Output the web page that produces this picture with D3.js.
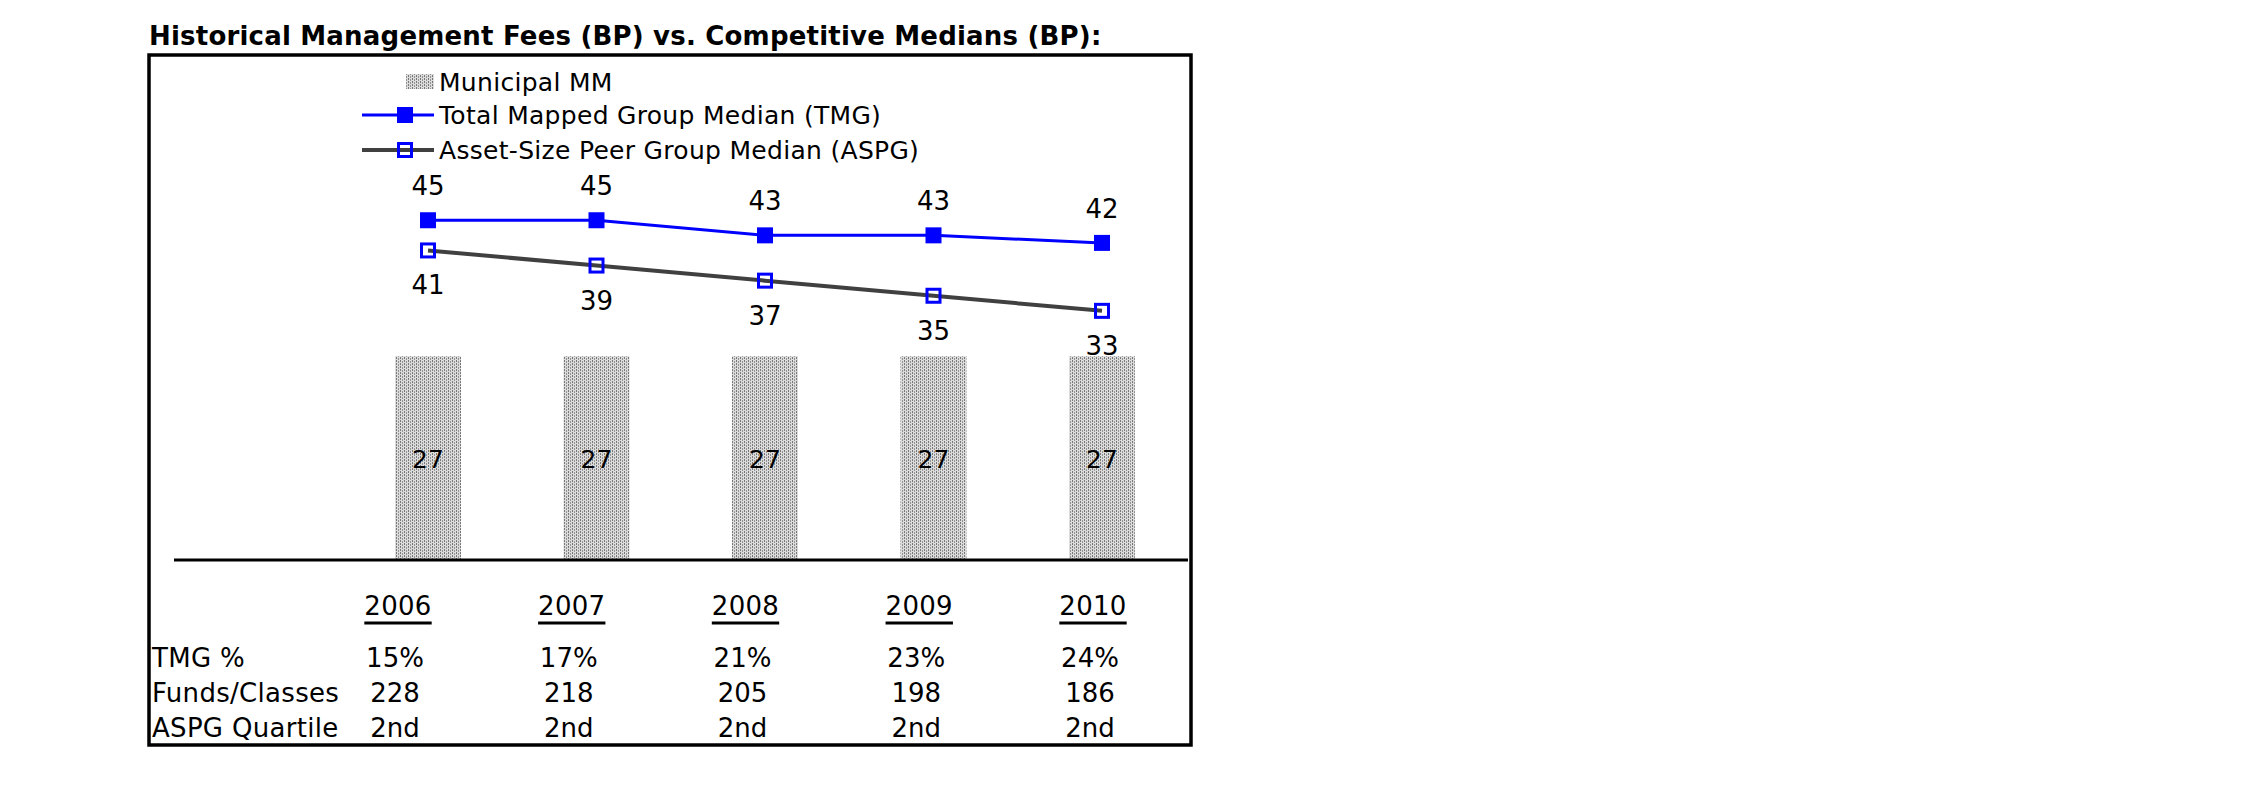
<!DOCTYPE html>
<html>
<head>
<meta charset="utf-8">
<script src="https://cdn.jsdelivr.net/npm/d3@7"></script>
<style>
  html, body { margin: 0; padding: 0; background: #fff; }
  svg { display: block; }
  text { font-family: "DejaVu Sans", Verdana, sans-serif; fill: #000; }
</style>
</head>
<body>
<svg id="chart" width="2250" height="796"></svg>
<script>
// ---------- data ----------
const years = ["2006", "2007", "2008", "2009", "2010"];
const municipalMM = [27, 27, 27, 27, 27];
const tmgMedian = [45, 45, 43, 43, 42];
const aspgMedian = [41, 39, 37, 35, 33];
const tmgPct = ["15%", "17%", "21%", "23%", "24%"];
const fundsClasses = ["228", "218", "205", "198", "186"];
const aspgQuartile = ["2nd", "2nd", "2nd", "2nd", "2nd"];
const rowLabels = ["TMG %", "Funds/Classes", "ASPG Quartile"];
const legendLabels = ["Municipal MM", "Total Mapped Group Median (TMG)", "Asset-Size Peer Group Median (ASPG)"];
const titleText = "Historical Management Fees (BP) vs. Competitive Medians (BP):";

// ---------- setup ----------
const svg = d3.select("#chart");
svg.append("rect").attr("width", 2250).attr("height", 796).attr("fill", "#fff");

const defs = svg.append("defs");
const pat = defs.append("pattern").attr("id", "dots")
  .attr("patternUnits", "userSpaceOnUse").attr("width", 4).attr("height", 3);
pat.append("rect").attr("width", 4).attr("height", 3).attr("fill", "#dcdcdc");
pat.append("rect").attr("x", 0).attr("y", 0).attr("width", 1).attr("height", 2).attr("fill", "#777");
pat.append("rect").attr("x", 2).attr("y", 1).attr("width", 1).attr("height", 2).attr("fill", "#939393");

const BLUE = "#0000ff";
const GRAY = "#404040";

// title
svg.append("text").attr("x", 149).attr("y", 45)
  .attr("font-size", 26).attr("font-weight", "bold").attr("letter-spacing", 0.2).text(titleText);

// frame
svg.append("rect").attr("x", 149).attr("y", 55).attr("width", 1042).attr("height", 690)
  .attr("fill", "none").attr("stroke", "#000").attr("stroke-width", 3.5);

// scales
const x = d3.scalePoint().domain(years).range([428, 1102]);
const y = d3.scaleLinear().domain([0, 60]).range([560, 107]);
const barW = 66;

// bars
svg.append("g").selectAll("rect").data(years).join("rect")
  .attr("x", d => x(d) - barW / 2)
  .attr("y", (d, i) => y(municipalMM[i]))
  .attr("width", barW)
  .attr("height", (d, i) => y(0) - y(municipalMM[i]))
  .attr("fill", "url(#dots)");

svg.append("g").selectAll("text").data(years).join("text")
  .attr("x", d => x(d)).attr("y", (d, i) => (y(municipalMM[i]) + y(0)) / 2 + 10)
  .attr("text-anchor", "middle").attr("font-size", 25)
  .text((d, i) => municipalMM[i]);

// baseline axis
svg.append("line").attr("x1", 174).attr("x2", 1188).attr("y1", y(0)).attr("y2", y(0))
  .attr("stroke", "#000").attr("stroke-width", 3);

// lines
const line = d3.line().x(d => x(d[0])).y(d => y(d[1]));
const aspgPts = years.map((d, i) => [d, aspgMedian[i]]);
const tmgPts = years.map((d, i) => [d, tmgMedian[i]]);

svg.append("path").datum(aspgPts).attr("d", line)
  .attr("fill", "none").attr("stroke", GRAY).attr("stroke-width", 4);
svg.append("path").datum(tmgPts).attr("d", line)
  .attr("fill", "none").attr("stroke", BLUE).attr("stroke-width", 3);

// markers
svg.append("g").selectAll("rect").data(tmgPts).join("rect")
  .attr("x", d => x(d[0]) - 8).attr("y", d => y(d[1]) - 8)
  .attr("width", 16).attr("height", 16).attr("fill", BLUE);
svg.append("g").selectAll("rect").data(aspgPts).join("rect")
  .attr("x", d => x(d[0]) - 6.5).attr("y", d => y(d[1]) - 6.5)
  .attr("width", 13).attr("height", 13).attr("fill", "none")
  .attr("stroke", BLUE).attr("stroke-width", 3);

// point labels
svg.append("g").selectAll("text").data(tmgPts).join("text")
  .attr("x", d => x(d[0])).attr("y", d => y(d[1]) - 25)
  .attr("text-anchor", "middle").attr("font-size", 26).text(d => d[1]);
svg.append("g").selectAll("text").data(aspgPts).join("text")
  .attr("x", d => x(d[0])).attr("y", d => y(d[1]) + 44)
  .attr("text-anchor", "middle").attr("font-size", 26).text(d => d[1]);

// legend
const lg = svg.append("g");
const lgX0 = 362, lgX1 = 434, lgTx = 439;
const lgY = [82, 115, 150];
lg.append("rect").attr("x", 406).attr("y", lgY[0] - 8).attr("width", lgX1 - 406).attr("height", 15)
  .attr("fill", "url(#dots)");
lg.append("line").attr("x1", lgX0).attr("x2", lgX1).attr("y1", lgY[1]).attr("y2", lgY[1])
  .attr("stroke", BLUE).attr("stroke-width", 3);
lg.append("rect").attr("x", 405 - 8).attr("y", lgY[1] - 8).attr("width", 16).attr("height", 16).attr("fill", BLUE);
lg.append("line").attr("x1", lgX0).attr("x2", lgX1).attr("y1", lgY[2]).attr("y2", lgY[2])
  .attr("stroke", GRAY).attr("stroke-width", 4);
lg.append("rect").attr("x", 405 - 6.5).attr("y", lgY[2] - 6.5).attr("width", 13).attr("height", 13)
  .attr("fill", "none").attr("stroke", BLUE).attr("stroke-width", 3);
lg.selectAll("text.lt").data(legendLabels).join("text").attr("class", "lt")
  .attr("x", lgTx).attr("y", (d, i) => lgY[i] + 9).attr("font-size", 25)
  .attr("letter-spacing", 0.3).text(d => d);

// table
const col = d3.scalePoint().domain(years).range([398, 1093]);
const yearG = svg.append("g");
const yt = yearG.selectAll("text").data(years).join("text")
  .attr("x", d => col(d)).attr("y", 615).attr("text-anchor", "middle")
  .attr("font-size", 26).attr("letter-spacing", 0.3).text(d => d);
yt.each(function(d) {
  const w = this.getComputedTextLength();
  yearG.append("line").attr("x1", col(d) - w / 2).attr("x2", col(d) + w / 2)
    .attr("y1", 623).attr("y2", 623).attr("stroke", "#000").attr("stroke-width", 3);
});

const rowY = [667, 702, 737];
const rows = [tmgPct, fundsClasses, aspgQuartile];
svg.append("g").selectAll("text").data(rowLabels).join("text")
  .attr("x", 152).attr("y", (d, i) => rowY[i]).attr("font-size", 26)
  .attr("letter-spacing", 0.3).text(d => d);
rows.forEach((vals, r) => {
  svg.append("g").selectAll("text").data(vals).join("text")
    .attr("x", (d, i) => col(years[i]) - 3).attr("y", rowY[r])
    .attr("text-anchor", "middle").attr("font-size", 26).text(d => d);
});
</script>
</body>
</html>
